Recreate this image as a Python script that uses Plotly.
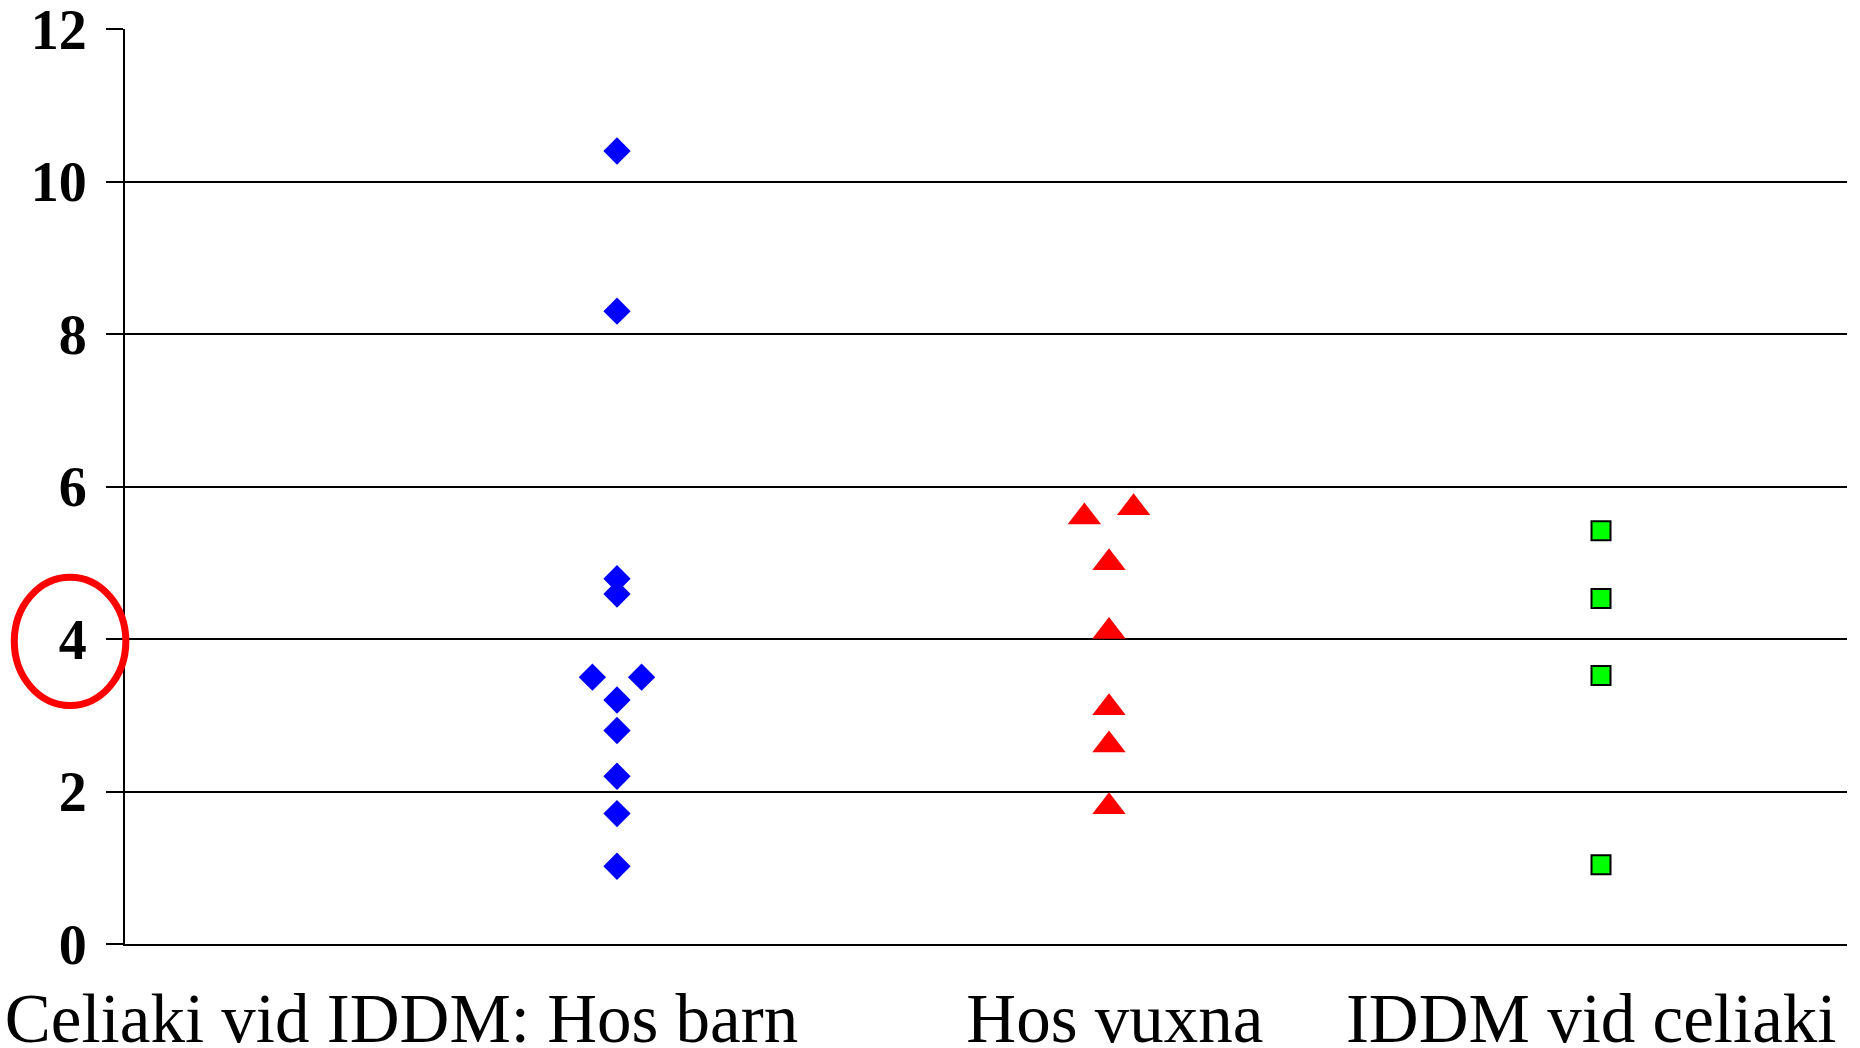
import plotly.graph_objects as go

# Category labels on the x axis
category_labels = ["Celiaki vid IDDM: Hos barn", "Hos vuxna", "IDDM vid celiaki"]

# Series: Celiaki vid IDDM hos barn (blue diamonds)
barn_x = [1, 1, 1, 1, 1, 0.95, 1.05, 1, 1, 1, 1]
barn_y = [1.02, 1.71, 2.20, 2.80, 3.20, 3.50, 3.50, 4.59, 4.79, 8.30, 10.40]

# Series: hos vuxna (red triangles)
vuxna_x = [2, 2, 2, 2, 2, 1.95, 2.05]
vuxna_y = [1.80, 2.61, 3.10, 4.10, 5.00, 5.60, 5.72]

# Series: IDDM vid celiaki (green squares)
iddm_x = [3, 3, 3, 3]
iddm_y = [1.04, 3.52, 4.53, 5.42]

y_ticks = [0, 2, 4, 6, 8, 10, 12]

# layout-only positions for the category text under the axis
label_pos = [0.562, 2.012, 2.980]

fig = go.Figure()
fig.add_trace(go.Scatter(x=barn_x, y=barn_y, mode="markers",
                         marker=dict(symbol="diamond", size=21, color="#0000FF",
                                     line=dict(width=0)),
                         showlegend=False, cliponaxis=False))
fig.add_trace(go.Scatter(x=vuxna_x, y=vuxna_y, mode="markers",
                         marker=dict(symbol="triangle-up", size=29, color="#FF0000",
                                     line=dict(width=0)),
                         showlegend=False, cliponaxis=False))
fig.add_trace(go.Scatter(x=iddm_x, y=iddm_y, mode="markers",
                         marker=dict(symbol="square", size=19, color="#00FF00",
                                     line=dict(width=2, color="black")),
                         showlegend=False, cliponaxis=False))

fig.update_layout(
    template="none",
    width=1860, height=1048,
    margin=dict(l=125, r=13, t=29, b=104, pad=0),
    paper_bgcolor="white", plot_bgcolor="white",
    xaxis=dict(range=[0, 3.5], tickvals=label_pos, ticktext=category_labels,
               showgrid=False, zeroline=False, ticks="", tickangle=0,
               showline=True, linewidth=2, linecolor="black",
               tickfont=dict(family="Liberation Serif", size=69, color="black"),
               ticklabelstandoff=13, ticklabeloverflow="allow",
               automargin=False, fixedrange=True),
    yaxis=dict(range=[0, 12], tickvals=y_ticks, ticktext=[str(v) for v in y_ticks],
               showgrid=True, gridcolor="black", gridwidth=2, zeroline=False,
               ticks="outside", ticklen=17, tickwidth=2, tickcolor="black",
               showline=True, linewidth=2, linecolor="black",
               tickfont=dict(family="Liberation Serif", size=56, color="black", weight="bold"),
               ticklabelstandoff=8, ticklabeloverflow="allow",
               automargin=False, fixedrange=True),
    shapes=[dict(type="circle", xref="paper", yref="paper",
                 x0=-0.0643, x1=0.0005, y0=0.2607, y1=0.4009,
                 line=dict(color="#FF0000", width=7), layer="above")],
)

fig.write_html("out.html", config={"displayModeBar": False},
               post_script="document.body.style.margin='0';document.body.style.overflow='hidden';")
